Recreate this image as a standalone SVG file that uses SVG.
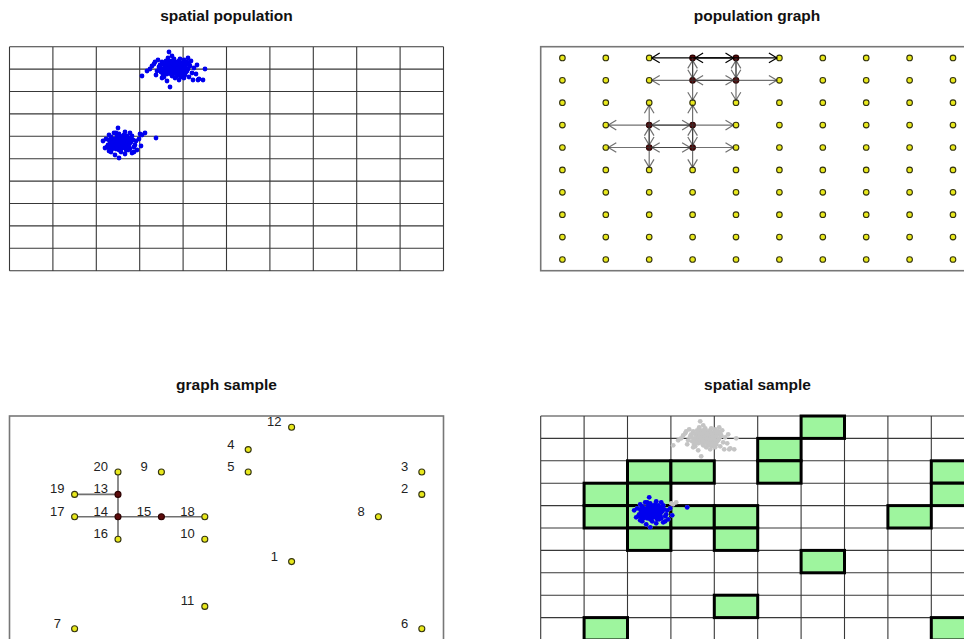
<svg xmlns="http://www.w3.org/2000/svg" width="964" height="639" viewBox="0 0 964 639">
<style>
.title{font-family:"Liberation Sans",Arial,sans-serif;font-weight:bold;font-size:15.5px;fill:#111;text-anchor:middle}
.lbl{font-family:"Liberation Sans",Arial,sans-serif;font-size:13px;fill:#222;text-anchor:middle}
.grid{fill:none;stroke:#383838;stroke-width:1.1}
.frame{fill:none;stroke:#777;stroke-width:1.6}
.y{fill:#e8e81c;stroke:#33330f;stroke-width:1.1}
.r{fill:#5c0b0b;stroke:#2a0000;stroke-width:1.1}
.e{fill:none;stroke:#333;stroke-opacity:.7;stroke-width:1.2;marker-end:url(#ag)}
.eb{fill:none;stroke:#000;stroke-width:1.2;marker-end:url(#ab)}
.se{fill:none;stroke:#707070;stroke-width:1.6}
.gc{fill:#9ef59e;stroke:#000;stroke-width:3}
</style>
<defs>
<marker id="ag" markerUnits="userSpaceOnUse" markerWidth="20" markerHeight="20" refX="0" refY="0" orient="auto" overflow="visible"><path d="M-8,-4.8 L0,0 L-8,4.8" fill="none" stroke="#333" stroke-opacity=".7" stroke-width="1.2"/></marker>
<marker id="ab" markerUnits="userSpaceOnUse" markerWidth="20" markerHeight="20" refX="0" refY="0" orient="auto" overflow="visible"><path d="M-8,-4.8 L0,0 L-8,4.8" fill="none" stroke="#000" stroke-width="1.2"/></marker>
<path id="gridp" class="grid" d="M0,0V224M43.4,0V224M86.8,0V224M130.2,0V224M173.6,0V224M217,0V224M260.4,0V224M303.8,0V224M347.2,0V224M390.6,0V224M434,0V224M0,0H434M0,22.4H434M0,44.8H434M0,67.2H434M0,89.6H434M0,112H434M0,134.4H434M0,156.8H434M0,179.2H434M0,201.6H434M0,224H434"/>
<g id="cA">
<circle cx="0" cy="0" r="2.4"/><circle cx="3" cy="-2" r="2.4"/><circle cx="-4" cy="1" r="2.4"/><circle cx="6" cy="2" r="2.4"/><circle cx="-8" cy="-3" r="2.4"/><circle cx="10" cy="-1" r="2.4"/><circle cx="-2" cy="4" r="2.4"/><circle cx="1" cy="-5" r="2.4"/><circle cx="-6" cy="5" r="2.4"/><circle cx="8" cy="4" r="2.4"/>
<circle cx="-12" cy="0" r="2.4"/><circle cx="14" cy="-3" r="2.4"/><circle cx="4" cy="6" r="2.4"/><circle cx="-3" cy="-7" r="2.4"/><circle cx="12" cy="3" r="2.4"/><circle cx="-10" cy="-6" r="2.4"/><circle cx="2" cy="2" r="2.4"/><circle cx="-1" cy="-3" r="2.4"/><circle cx="5" cy="-4" r="2.4"/><circle cx="-5" cy="-1" r="2.4"/>
<circle cx="16" cy="1" r="2.4"/><circle cx="-15" cy="3" r="2.4"/><circle cx="7" cy="-7" r="2.4"/><circle cx="-9" cy="7" r="2.4"/><circle cx="11" cy="-5" r="2.4"/><circle cx="18" cy="-2" r="2.4"/><circle cx="-18" cy="-4" r="2.4"/><circle cx="0" cy="8" r="2.4"/><circle cx="3" cy="10" r="2.4"/><circle cx="-4" cy="-10" r="2.4"/>
<circle cx="20" cy="5" r="2.4"/><circle cx="-14" cy="-8" r="2.4"/><circle cx="9" cy="9" r="2.4"/><circle cx="-7" cy="2" r="2.4"/><circle cx="13" cy="7" r="2.4"/><circle cx="-11" cy="4" r="2.4"/><circle cx="15" cy="-6" r="2.4"/><circle cx="6" cy="-1" r="2.4"/><circle cx="-2" cy="-1" r="2.4"/><circle cx="4" cy="3" r="2.4"/>
<circle cx="-16" cy="7" r="2.4"/><circle cx="22" cy="0" r="2.4"/><circle cx="24" cy="6" r="2.4"/><circle cx="27" cy="11" r="2.4"/><circle cx="31" cy="12" r="2.4"/><circle cx="33" cy="1" r="2.4"/><circle cx="-20" cy="-2" r="2.4"/><circle cx="-25" cy="3" r="2.4"/><circle cx="-30" cy="8" r="2.4"/><circle cx="-2" cy="19" r="2.4"/>
<circle cx="-3" cy="-16" r="2.4"/><circle cx="8" cy="-9" r="2.4"/><circle cx="17" cy="9" r="2.4"/><circle cx="-13" cy="-1" r="2.4"/><circle cx="1" cy="5" r="2.4"/><circle cx="-6" cy="-4" r="2.4"/><circle cx="10" cy="1" r="2.4"/><circle cx="12" cy="-8" r="2.4"/><circle cx="-8" cy="9" r="2.4"/><circle cx="19" cy="-7" r="2.4"/>
<circle cx="25" cy="-3" r="2.4"/><circle cx="2" cy="-9" r="2.4"/><circle cx="-10" cy="10" r="2.4"/><circle cx="21" cy="12" r="2.4"/><circle cx="14" cy="4" r="2.4"/><circle cx="5" cy="8" r="2.4"/><circle cx="-17" cy="-6" r="2.4"/><circle cx="7" cy="12" r="2.4"/><circle cx="-5" cy="13" r="2.4"/><circle cx="0" cy="-12" r="2.4"/>
<circle cx="26" cy="12" r="2.4"/><circle cx="-22" cy="1" r="2.4"/><circle cx="16" cy="-10" r="2.4"/><circle cx="-1" cy="6" r="2.4"/><circle cx="3" cy="-1" r="2.4"/><circle cx="8" cy="-3" r="2.4"/><circle cx="-4" cy="4" r="2.4"/><circle cx="11" cy="8" r="2.4"/>
<circle cx="1" cy="1" r="2.4"/><circle cx="-2" cy="-2" r="2.4"/><circle cx="4" cy="-1" r="2.4"/><circle cx="-3" cy="3" r="2.4"/><circle cx="2" cy="-3" r="2.4"/><circle cx="6" cy="4" r="2.4"/><circle cx="-6" cy="0" r="2.4"/><circle cx="0" cy="3" r="2.4"/><circle cx="3" cy="1" r="2.4"/><circle cx="-1" cy="-5" r="2.4"/>
<circle cx="7" cy="-2" r="2.4"/><circle cx="-4" cy="-4" r="2.4"/><circle cx="5" cy="2" r="2.4"/><circle cx="-7" cy="3" r="2.4"/><circle cx="9" cy="3" r="2.4"/><circle cx="-5" cy="6" r="2.4"/><circle cx="2" cy="5" r="2.4"/><circle cx="8" cy="-5" r="2.4"/><circle cx="-9" cy="1" r="2.4"/><circle cx="1" cy="-1" r="2.4"/>
<circle cx="11" cy="2" r="2.4"/><circle cx="13" cy="-1" r="2.4"/><circle cx="-3" cy="0" r="2.4"/><circle cx="4" cy="-6" r="2.4"/><circle cx="6" cy="6" r="2.4"/><circle cx="-8" cy="5" r="2.4"/><circle cx="10" cy="6" r="2.4"/><circle cx="3" cy="-4" r="2.4"/><circle cx="-1" cy="2" r="2.4"/><circle cx="15" cy="3" r="2.4"/>
<circle cx="17" cy="-4" r="2.4"/><circle cx="12" cy="10" r="2.4"/><circle cx="-12" cy="-3" r="2.4"/><circle cx="-6" cy="-7" r="2.4"/><circle cx="9" cy="-3" r="2.4"/><circle cx="0" cy="-7" r="2.4"/>
</g>
<g id="cB">
<circle cx="0" cy="0" r="2.4"/><circle cx="2" cy="-1" r="2.4"/><circle cx="-3" cy="2" r="2.4"/><circle cx="4" cy="3" r="2.4"/><circle cx="-5" cy="-2" r="2.4"/><circle cx="6" cy="-3" r="2.4"/><circle cx="-1" cy="5" r="2.4"/><circle cx="1" cy="-4" r="2.4"/><circle cx="-6" cy="4" r="2.4"/><circle cx="7" cy="2" r="2.4"/>
<circle cx="-9" cy="0" r="2.4"/><circle cx="9" cy="-2" r="2.4"/><circle cx="3" cy="6" r="2.4"/><circle cx="-2" cy="-6" r="2.4"/><circle cx="10" cy="4" r="2.4"/><circle cx="-8" cy="-5" r="2.4"/><circle cx="2" cy="1" r="2.4"/><circle cx="-1" cy="-2" r="2.4"/><circle cx="5" cy="-4" r="2.4"/><circle cx="-4" cy="-1" r="2.4"/>
<circle cx="12" cy="0" r="2.4"/><circle cx="-11" cy="3" r="2.4"/><circle cx="5" cy="-7" r="2.4"/><circle cx="-7" cy="7" r="2.4"/><circle cx="8" cy="-6" r="2.4"/><circle cx="14" cy="-2" r="2.4"/><circle cx="-13" cy="-3" r="2.4"/><circle cx="0" cy="8" r="2.4"/><circle cx="2" cy="10" r="2.4"/><circle cx="-3" cy="-9" r="2.4"/>
<circle cx="15" cy="5" r="2.4"/><circle cx="-10" cy="-7" r="2.4"/><circle cx="7" cy="8" r="2.4"/><circle cx="-6" cy="1" r="2.4"/><circle cx="11" cy="7" r="2.4"/><circle cx="-12" cy="5" r="2.4"/><circle cx="13" cy="-6" r="2.4"/><circle cx="4" cy="0" r="2.4"/><circle cx="-2" cy="1" r="2.4"/><circle cx="3" cy="3" r="2.4"/>
<circle cx="-14" cy="6" r="2.4"/><circle cx="17" cy="-1" r="2.4"/><circle cx="20" cy="-3" r="2.4"/><circle cx="22" cy="4" r="2.4"/><circle cx="37" cy="-4" r="2.4"/><circle cx="-16" cy="-1" r="2.4"/><circle cx="-1" cy="-14" r="2.4"/><circle cx="0" cy="16" r="2.4"/><circle cx="-4" cy="13" r="2.4"/><circle cx="13" cy="11" r="2.4"/>
<circle cx="6" cy="12" r="2.4"/><circle cx="-8" cy="10" r="2.4"/><circle cx="9" cy="1" r="2.4"/><circle cx="11" cy="-9" r="2.4"/><circle cx="-5" cy="-9" r="2.4"/><circle cx="16" cy="3" r="2.4"/><circle cx="18" cy="8" r="2.4"/><circle cx="-3" cy="4" r="2.4"/><circle cx="1" cy="7" r="2.4"/><circle cx="-7" cy="-3" r="2.4"/>
<circle cx="5" cy="5" r="2.4"/><circle cx="-9" cy="3" r="2.4"/><circle cx="3" cy="-2" r="2.4"/><circle cx="8" cy="5" r="2.4"/><circle cx="-5" cy="6" r="2.4"/><circle cx="10" cy="-4" r="2.4"/><circle cx="0" cy="-8" r="2.4"/><circle cx="6" cy="-10" r="2.4"/><circle cx="-10" cy="9" r="2.4"/><circle cx="15" cy="10" r="2.4"/>
<circle cx="1" cy="1" r="2.4"/><circle cx="-2" cy="-2" r="2.4"/><circle cx="3" cy="-1" r="2.4"/><circle cx="-3" cy="3" r="2.4"/><circle cx="2" cy="-3" r="2.4"/><circle cx="5" cy="4" r="2.4"/><circle cx="-5" cy="0" r="2.4"/><circle cx="0" cy="3" r="2.4"/><circle cx="3" cy="1" r="2.4"/><circle cx="-1" cy="-4" r="2.4"/>
<circle cx="6" cy="-1" r="2.4"/><circle cx="-4" cy="-3" r="2.4"/><circle cx="4" cy="2" r="2.4"/><circle cx="-6" cy="2" r="2.4"/><circle cx="8" cy="2" r="2.4"/><circle cx="-4" cy="5" r="2.4"/><circle cx="2" cy="5" r="2.4"/><circle cx="7" cy="-4" r="2.4"/><circle cx="-8" cy="1" r="2.4"/><circle cx="1" cy="-1" r="2.4"/>
<circle cx="9" cy="-1" r="2.4"/><circle cx="11" cy="1" r="2.4"/><circle cx="-2" cy="0" r="2.4"/><circle cx="4" cy="-5" r="2.4"/><circle cx="6" cy="6" r="2.4"/><circle cx="-7" cy="4" r="2.4"/><circle cx="10" cy="5" r="2.4"/><circle cx="-1" cy="2" r="2.4"/><circle cx="12" cy="-3" r="2.4"/><circle cx="-10" cy="-2" r="2.4"/>
<circle cx="-3" cy="7" r="2.4"/><circle cx="1" cy="-6" r="2.4"/><circle cx="9" cy="8" r="2.4"/><circle cx="-9" cy="6" r="2.4"/>
</g>
<g id="cBx">
<circle cx="23" cy="-7" r="2.4"/><circle cx="26" cy="-9" r="2.4"/><circle cx="21" cy="-8" r="2.4"/>
</g>
</defs>
<rect width="964" height="639" fill="#fff"/>

<g id="panel-spatial-population">
<text class="title" x="226.5" y="20.5">spatial population</text>
<use href="#gridp" x="9.5" y="46.7"/>
<g id="population-1" fill="#0000ee">
<use href="#cA" x="172" y="68"/>
<use href="#cB" x="119" y="142"/>
<use href="#cBx" x="119" y="142"/>
</g>
</g>

<g id="panel-population-graph">
<text class="title" x="757" y="20.5">population graph</text>
<rect class="frame" x="540.7" y="46.7" width="434" height="224"/>
<g id="pg-nodes">
<g id="pg-0-0"><circle class="y" cx="562.4" cy="57.9" r="2.8"/></g><g id="pg-0-1"><circle class="y" cx="605.8" cy="57.9" r="2.8"/></g><g id="pg-0-2"><circle class="y" cx="649.2" cy="57.9" r="2.8"/></g><g id="pg-0-3"><circle class="r" cx="692.6" cy="57.9" r="2.8"/></g><g id="pg-0-4"><circle class="r" cx="736" cy="57.9" r="2.8"/></g><g id="pg-0-5"><circle class="y" cx="779.4" cy="57.9" r="2.8"/></g><g id="pg-0-6"><circle class="y" cx="822.8" cy="57.9" r="2.8"/></g><g id="pg-0-7"><circle class="y" cx="866.2" cy="57.9" r="2.8"/></g><g id="pg-0-8"><circle class="y" cx="909.6" cy="57.9" r="2.8"/></g><g id="pg-0-9"><circle class="y" cx="953" cy="57.9" r="2.8"/></g>
<g id="pg-1-0"><circle class="y" cx="562.4" cy="80.3" r="2.8"/></g><g id="pg-1-1"><circle class="y" cx="605.8" cy="80.3" r="2.8"/></g><g id="pg-1-2"><circle class="y" cx="649.2" cy="80.3" r="2.8"/></g><g id="pg-1-3"><circle class="r" cx="692.6" cy="80.3" r="2.8"/></g><g id="pg-1-4"><circle class="r" cx="736" cy="80.3" r="2.8"/></g><g id="pg-1-5"><circle class="y" cx="779.4" cy="80.3" r="2.8"/></g><g id="pg-1-6"><circle class="y" cx="822.8" cy="80.3" r="2.8"/></g><g id="pg-1-7"><circle class="y" cx="866.2" cy="80.3" r="2.8"/></g><g id="pg-1-8"><circle class="y" cx="909.6" cy="80.3" r="2.8"/></g><g id="pg-1-9"><circle class="y" cx="953" cy="80.3" r="2.8"/></g>
<g id="pg-2-0"><circle class="y" cx="562.4" cy="102.7" r="2.8"/></g><g id="pg-2-1"><circle class="y" cx="605.8" cy="102.7" r="2.8"/></g><g id="pg-2-2"><circle class="y" cx="649.2" cy="102.7" r="2.8"/></g><g id="pg-2-3"><circle class="y" cx="692.6" cy="102.7" r="2.8"/></g><g id="pg-2-4"><circle class="y" cx="736" cy="102.7" r="2.8"/></g><g id="pg-2-5"><circle class="y" cx="779.4" cy="102.7" r="2.8"/></g><g id="pg-2-6"><circle class="y" cx="822.8" cy="102.7" r="2.8"/></g><g id="pg-2-7"><circle class="y" cx="866.2" cy="102.7" r="2.8"/></g><g id="pg-2-8"><circle class="y" cx="909.6" cy="102.7" r="2.8"/></g><g id="pg-2-9"><circle class="y" cx="953" cy="102.7" r="2.8"/></g>
<g id="pg-3-0"><circle class="y" cx="562.4" cy="125.1" r="2.8"/></g><g id="pg-3-1"><circle class="y" cx="605.8" cy="125.1" r="2.8"/></g><g id="pg-3-2"><circle class="r" cx="649.2" cy="125.1" r="2.8"/></g><g id="pg-3-3"><circle class="r" cx="692.6" cy="125.1" r="2.8"/></g><g id="pg-3-4"><circle class="y" cx="736" cy="125.1" r="2.8"/></g><g id="pg-3-5"><circle class="y" cx="779.4" cy="125.1" r="2.8"/></g><g id="pg-3-6"><circle class="y" cx="822.8" cy="125.1" r="2.8"/></g><g id="pg-3-7"><circle class="y" cx="866.2" cy="125.1" r="2.8"/></g><g id="pg-3-8"><circle class="y" cx="909.6" cy="125.1" r="2.8"/></g><g id="pg-3-9"><circle class="y" cx="953" cy="125.1" r="2.8"/></g>
<g id="pg-4-0"><circle class="y" cx="562.4" cy="147.5" r="2.8"/></g><g id="pg-4-1"><circle class="y" cx="605.8" cy="147.5" r="2.8"/></g><g id="pg-4-2"><circle class="r" cx="649.2" cy="147.5" r="2.8"/></g><g id="pg-4-3"><circle class="r" cx="692.6" cy="147.5" r="2.8"/></g><g id="pg-4-4"><circle class="y" cx="736" cy="147.5" r="2.8"/></g><g id="pg-4-5"><circle class="y" cx="779.4" cy="147.5" r="2.8"/></g><g id="pg-4-6"><circle class="y" cx="822.8" cy="147.5" r="2.8"/></g><g id="pg-4-7"><circle class="y" cx="866.2" cy="147.5" r="2.8"/></g><g id="pg-4-8"><circle class="y" cx="909.6" cy="147.5" r="2.8"/></g><g id="pg-4-9"><circle class="y" cx="953" cy="147.5" r="2.8"/></g>
<g id="pg-5-0"><circle class="y" cx="562.4" cy="169.9" r="2.8"/></g><g id="pg-5-1"><circle class="y" cx="605.8" cy="169.9" r="2.8"/></g><g id="pg-5-2"><circle class="y" cx="649.2" cy="169.9" r="2.8"/></g><g id="pg-5-3"><circle class="y" cx="692.6" cy="169.9" r="2.8"/></g><g id="pg-5-4"><circle class="y" cx="736" cy="169.9" r="2.8"/></g><g id="pg-5-5"><circle class="y" cx="779.4" cy="169.9" r="2.8"/></g><g id="pg-5-6"><circle class="y" cx="822.8" cy="169.9" r="2.8"/></g><g id="pg-5-7"><circle class="y" cx="866.2" cy="169.9" r="2.8"/></g><g id="pg-5-8"><circle class="y" cx="909.6" cy="169.9" r="2.8"/></g><g id="pg-5-9"><circle class="y" cx="953" cy="169.9" r="2.8"/></g>
<g id="pg-6-0"><circle class="y" cx="562.4" cy="192.3" r="2.8"/></g><g id="pg-6-1"><circle class="y" cx="605.8" cy="192.3" r="2.8"/></g><g id="pg-6-2"><circle class="y" cx="649.2" cy="192.3" r="2.8"/></g><g id="pg-6-3"><circle class="y" cx="692.6" cy="192.3" r="2.8"/></g><g id="pg-6-4"><circle class="y" cx="736" cy="192.3" r="2.8"/></g><g id="pg-6-5"><circle class="y" cx="779.4" cy="192.3" r="2.8"/></g><g id="pg-6-6"><circle class="y" cx="822.8" cy="192.3" r="2.8"/></g><g id="pg-6-7"><circle class="y" cx="866.2" cy="192.3" r="2.8"/></g><g id="pg-6-8"><circle class="y" cx="909.6" cy="192.3" r="2.8"/></g><g id="pg-6-9"><circle class="y" cx="953" cy="192.3" r="2.8"/></g>
<g id="pg-7-0"><circle class="y" cx="562.4" cy="214.7" r="2.8"/></g><g id="pg-7-1"><circle class="y" cx="605.8" cy="214.7" r="2.8"/></g><g id="pg-7-2"><circle class="y" cx="649.2" cy="214.7" r="2.8"/></g><g id="pg-7-3"><circle class="y" cx="692.6" cy="214.7" r="2.8"/></g><g id="pg-7-4"><circle class="y" cx="736" cy="214.7" r="2.8"/></g><g id="pg-7-5"><circle class="y" cx="779.4" cy="214.7" r="2.8"/></g><g id="pg-7-6"><circle class="y" cx="822.8" cy="214.7" r="2.8"/></g><g id="pg-7-7"><circle class="y" cx="866.2" cy="214.7" r="2.8"/></g><g id="pg-7-8"><circle class="y" cx="909.6" cy="214.7" r="2.8"/></g><g id="pg-7-9"><circle class="y" cx="953" cy="214.7" r="2.8"/></g>
<g id="pg-8-0"><circle class="y" cx="562.4" cy="237.1" r="2.8"/></g><g id="pg-8-1"><circle class="y" cx="605.8" cy="237.1" r="2.8"/></g><g id="pg-8-2"><circle class="y" cx="649.2" cy="237.1" r="2.8"/></g><g id="pg-8-3"><circle class="y" cx="692.6" cy="237.1" r="2.8"/></g><g id="pg-8-4"><circle class="y" cx="736" cy="237.1" r="2.8"/></g><g id="pg-8-5"><circle class="y" cx="779.4" cy="237.1" r="2.8"/></g><g id="pg-8-6"><circle class="y" cx="822.8" cy="237.1" r="2.8"/></g><g id="pg-8-7"><circle class="y" cx="866.2" cy="237.1" r="2.8"/></g><g id="pg-8-8"><circle class="y" cx="909.6" cy="237.1" r="2.8"/></g><g id="pg-8-9"><circle class="y" cx="953" cy="237.1" r="2.8"/></g>
<g id="pg-9-0"><circle class="y" cx="562.4" cy="259.5" r="2.8"/></g><g id="pg-9-1"><circle class="y" cx="605.8" cy="259.5" r="2.8"/></g><g id="pg-9-2"><circle class="y" cx="649.2" cy="259.5" r="2.8"/></g><g id="pg-9-3"><circle class="y" cx="692.6" cy="259.5" r="2.8"/></g><g id="pg-9-4"><circle class="y" cx="736" cy="259.5" r="2.8"/></g><g id="pg-9-5"><circle class="y" cx="779.4" cy="259.5" r="2.8"/></g><g id="pg-9-6"><circle class="y" cx="822.8" cy="259.5" r="2.8"/></g><g id="pg-9-7"><circle class="y" cx="866.2" cy="259.5" r="2.8"/></g><g id="pg-9-8"><circle class="y" cx="909.6" cy="259.5" r="2.8"/></g><g id="pg-9-9"><circle class="y" cx="953" cy="259.5" r="2.8"/></g>
</g>
<g id="pg-connectors">
<path class="eb" d="M692.6,57.9H651.7"/>
<path class="eb" d="M692.6,57.9H733.5"/>
<path class="eb" d="M736,57.9H695.1"/>
<path class="eb" d="M736,57.9H776.9"/>
<path class="e" d="M692.6,57.9V77.8"/>
<path class="e" d="M736,57.9V77.8"/>
<path class="e" d="M692.6,80.3V60.4"/>
<path class="e" d="M736,80.3V60.4"/>
<path class="e" d="M692.6,80.3H651.7"/>
<path class="e" d="M692.6,80.3H733.5"/>
<path class="e" d="M736,80.3H695.1"/>
<path class="e" d="M736,80.3H776.9"/>
<path class="e" d="M692.6,80.3V100.2"/>
<path class="e" d="M736,80.3V100.2"/>
<path class="e" d="M649.2,125.1H608.3"/>
<path class="e" d="M649.2,125.1H690.1"/>
<path class="e" d="M692.6,125.1H651.7"/>
<path class="e" d="M692.6,125.1H733.5"/>
<path class="e" d="M649.2,125.1V105.2"/>
<path class="e" d="M692.6,125.1V105.2"/>
<path class="e" d="M649.2,125.1V145"/>
<path class="e" d="M692.6,125.1V145"/>
<path class="e" d="M649.2,147.5H608.3"/>
<path class="e" d="M649.2,147.5H690.1"/>
<path class="e" d="M692.6,147.5H651.7"/>
<path class="e" d="M692.6,147.5H733.5"/>
<path class="e" d="M649.2,147.5V127.6"/>
<path class="e" d="M692.6,147.5V127.6"/>
<path class="e" d="M649.2,147.5V167.4"/>
<path class="e" d="M692.6,147.5V167.4"/>
</g>
</g>

<g id="panel-graph-sample">
<text class="title" x="226.5" y="389.5">graph sample</text>
<rect class="frame" x="9.5" y="416" width="434" height="224"/>
<g id="gs-connectors">
<path class="se" d="M118,472V539.2"/>
<path class="se" d="M74.6,494.4H118"/>
<path class="se" d="M74.6,516.8H204.8"/>
</g>
<g id="gs-1"><circle class="y" cx="291.6" cy="561.6" r="3"/><text class="lbl" x="274.3" y="560.6">1</text></g>
<g id="gs-2"><circle class="y" cx="421.8" cy="494.4" r="3"/><text class="lbl" x="404.5" y="493.4">2</text></g>
<g id="gs-3"><circle class="y" cx="421.8" cy="472" r="3"/><text class="lbl" x="404.5" y="471">3</text></g>
<g id="gs-4"><circle class="y" cx="248.2" cy="449.6" r="3"/><text class="lbl" x="230.9" y="448.6">4</text></g>
<g id="gs-5"><circle class="y" cx="248.2" cy="472" r="3"/><text class="lbl" x="230.9" y="471">5</text></g>
<g id="gs-6"><circle class="y" cx="421.8" cy="628.8" r="3"/><text class="lbl" x="404.5" y="627.8">6</text></g>
<g id="gs-7"><circle class="y" cx="74.6" cy="628.8" r="3"/><text class="lbl" x="57.3" y="627.8">7</text></g>
<g id="gs-8"><circle class="y" cx="378.4" cy="516.8" r="3"/><text class="lbl" x="361.1" y="515.8">8</text></g>
<g id="gs-9"><circle class="y" cx="161.4" cy="472" r="3"/><text class="lbl" x="144.1" y="471">9</text></g>
<g id="gs-10"><circle class="y" cx="204.8" cy="539.2" r="3"/><text class="lbl" x="187.5" y="538.2">10</text></g>
<g id="gs-11"><circle class="y" cx="204.8" cy="606.4" r="3"/><text class="lbl" x="187.5" y="605.4">11</text></g>
<g id="gs-12"><circle class="y" cx="291.6" cy="427.2" r="3"/><text class="lbl" x="274.3" y="426.2">12</text></g>
<g id="gs-13"><circle class="r" cx="118" cy="494.4" r="3"/><text class="lbl" x="100.7" y="493.4">13</text></g>
<g id="gs-14"><circle class="r" cx="118" cy="516.8" r="3"/><text class="lbl" x="100.7" y="515.8">14</text></g>
<g id="gs-15"><circle class="r" cx="161.4" cy="516.8" r="3"/><text class="lbl" x="144.1" y="515.8">15</text></g>
<g id="gs-16"><circle class="y" cx="118" cy="539.2" r="3"/><text class="lbl" x="100.7" y="538.2">16</text></g>
<g id="gs-17"><circle class="y" cx="74.6" cy="516.8" r="3"/><text class="lbl" x="57.3" y="515.8">17</text></g>
<g id="gs-18"><circle class="y" cx="204.8" cy="516.8" r="3"/><text class="lbl" x="187.5" y="515.8">18</text></g>
<g id="gs-19"><circle class="y" cx="74.6" cy="494.4" r="3"/><text class="lbl" x="57.3" y="493.4">19</text></g>
<g id="gs-20"><circle class="y" cx="118" cy="472" r="3"/><text class="lbl" x="100.7" y="471">20</text></g>
</g>

<g id="panel-spatial-sample">
<text class="title" x="757.5" y="389.5">spatial sample</text>
<use href="#gridp" x="540.7" y="416"/>
<g id="ss-cells">
<rect class="gc" x="801.1" y="416" width="43.4" height="22.4"/>
<rect class="gc" x="757.7" y="438.4" width="43.4" height="22.4"/>
<rect class="gc" x="757.7" y="460.8" width="43.4" height="22.4"/>
<rect class="gc" x="627.5" y="460.8" width="43.4" height="22.4"/>
<rect class="gc" x="670.9" y="460.8" width="43.4" height="22.4"/>
<rect class="gc" x="931.3" y="460.8" width="43.4" height="22.4"/>
<rect class="gc" x="584.1" y="483.2" width="43.4" height="22.4"/>
<rect class="gc" x="627.5" y="483.2" width="43.4" height="22.4"/>
<rect class="gc" x="931.3" y="483.2" width="43.4" height="22.4"/>
<rect class="gc" x="584.1" y="505.6" width="43.4" height="22.4"/>
<rect class="gc" x="627.5" y="505.6" width="43.4" height="22.4"/>
<rect class="gc" x="670.9" y="505.6" width="43.4" height="22.4"/>
<rect class="gc" x="714.3" y="505.6" width="43.4" height="22.4"/>
<rect class="gc" x="887.9" y="505.6" width="43.4" height="22.4"/>
<rect class="gc" x="627.5" y="528" width="43.4" height="22.4"/>
<rect class="gc" x="714.3" y="528" width="43.4" height="22.4"/>
<rect class="gc" x="801.1" y="550.4" width="43.4" height="22.4"/>
<rect class="gc" x="714.3" y="595.2" width="43.4" height="22.4"/>
<rect class="gc" x="584.1" y="617.6" width="43.4" height="22.4"/>
<rect class="gc" x="931.3" y="617.6" width="43.4" height="22.4"/>
</g>
<g id="population-2-unsampled" fill="#c4c4c4">
<use href="#cA" x="703.2" y="437.3"/>
<use href="#cB" x="650.2" y="511.3"/>
<use href="#cBx" x="650.2" y="511.3"/>
</g>
<g id="population-2-sampled" fill="#0000ee">
<use href="#cB" x="650.2" y="511.3"/>
</g>
</g>
</svg>
